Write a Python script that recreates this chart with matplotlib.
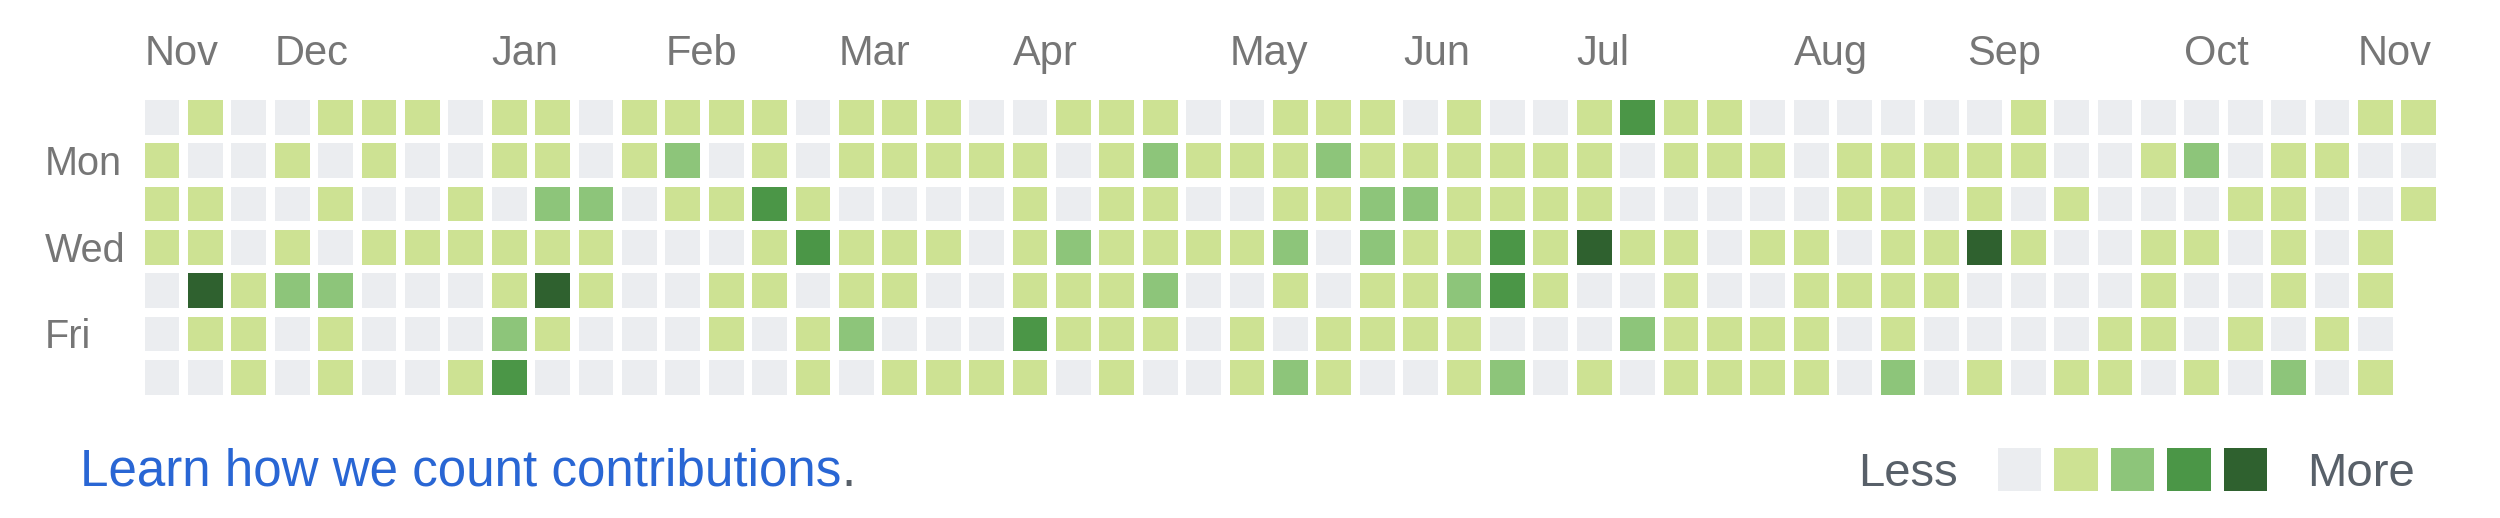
import matplotlib.pyplot as plt
import numpy as np

plt.rcParams['font.family'] = ['Liberation Sans', 'DejaVu Sans']

# Contribution level (0-4) per week, one list per weekday.
sun = [0, 1, 0, 0, 1, 1, 1, 0, 1, 1, 0, 1, 1, 1, 1, 0, 1, 1, 1, 0, 0, 1, 1, 1, 0, 0, 1,
       1, 1, 0, 1, 0, 0, 1, 3, 1, 1, 0, 0, 0, 0, 0, 0, 1, 0, 0, 0, 0, 0, 0, 0, 1, 1]
mon = [1, 0, 0, 1, 0, 1, 0, 0, 1, 1, 0, 1, 2, 0, 1, 0, 1, 1, 1, 1, 1, 0, 1, 2, 1, 1, 1,
       2, 1, 1, 1, 1, 1, 1, 0, 1, 1, 1, 0, 1, 1, 1, 1, 1, 0, 0, 1, 2, 0, 1, 1, 0, 0]
tue = [1, 1, 0, 0, 1, 0, 0, 1, 0, 2, 2, 0, 1, 1, 3, 1, 0, 0, 0, 0, 1, 0, 1, 1, 0, 0, 1,
       1, 2, 2, 1, 1, 1, 1, 0, 0, 0, 0, 0, 1, 1, 0, 1, 0, 1, 0, 0, 0, 1, 1, 0, 0, 1]
wed = [1, 1, 0, 1, 0, 1, 1, 1, 1, 1, 1, 0, 0, 0, 1, 3, 1, 1, 1, 0, 1, 2, 1, 1, 1, 1, 2,
       0, 2, 1, 1, 3, 1, 4, 1, 1, 0, 1, 1, 0, 1, 1, 4, 1, 0, 0, 1, 1, 0, 1, 0, 1]
thu = [0, 4, 1, 2, 2, 0, 0, 0, 1, 4, 1, 0, 0, 1, 1, 0, 1, 1, 0, 0, 1, 1, 1, 2, 0, 0, 1,
       0, 1, 1, 2, 3, 1, 0, 0, 1, 0, 0, 1, 1, 1, 1, 0, 0, 0, 0, 1, 0, 0, 1, 0, 1]
fri = [0, 1, 1, 0, 1, 0, 0, 0, 2, 1, 0, 0, 0, 1, 0, 1, 2, 0, 0, 0, 3, 1, 1, 1, 0, 1, 0,
       1, 1, 1, 1, 0, 0, 0, 2, 1, 1, 1, 1, 0, 1, 0, 0, 0, 0, 1, 1, 0, 1, 0, 1, 0]
sat = [0, 0, 1, 0, 1, 0, 0, 1, 3, 0, 0, 0, 0, 0, 0, 1, 0, 1, 1, 1, 1, 0, 1, 0, 0, 1, 2,
       1, 0, 0, 1, 2, 0, 1, 0, 1, 1, 1, 1, 0, 2, 0, 1, 0, 1, 1, 0, 1, 0, 2, 0, 1]
levels = [sun, mon, tue, wed, thu, fri, sat]

months = ['Nov', 'Dec', 'Jan', 'Feb', 'Mar', 'Apr', 'May', 'Jun', 'Jul', 'Aug', 'Sep', 'Oct', 'Nov']
month_weeks = [0, 3, 8, 12, 16, 20, 25, 29, 33, 38, 42, 47, 51]
day_labels = ['Mon', 'Wed', 'Fri']
day_rows = [1, 3, 5]
colors = ['#ebedf0', '#cde293', '#8dc57a', '#4b9647', '#2f612f']

fig = plt.figure(figsize=(25, 5.18), dpi=100)

# Calendar grid
ax = fig.add_axes([0.0561, 0.2297, 0.9201, 0.5855])
for r, row in enumerate(levels):
    weeks = np.arange(len(row))
    ax.bar(weeks, 0.8, bottom=r, width=0.8, align='edge',
           color=[colors[v] for v in row], linewidth=0)
ax.set_xlim(-0.1, 52.9)
ax.set_ylim(6.9, -0.1)
ax.axis('off')

for w, m in zip(month_weeks, months):
    ax.text(w, -0.81, m, ha='left', va='baseline', fontsize=30, color='#767676', clip_on=False)
for r, d in zip(day_rows, day_labels):
    ax.text(-2.29, r + 0.73, d, ha='left', va='baseline', fontsize=28.5, color='#767676', clip_on=False)

# Legend
lax = fig.add_axes([1997.8 / 2500, 1 - 491 / 518, 269.3 / 2500, 43 / 518])
lax.bar(np.arange(len(colors)), 1, width=0.766, align='edge', color=colors, linewidth=0)
lax.set_xlim(0, 4.766)
lax.set_ylim(0, 1)
lax.axis('off')
lax.text(-0.70, 0.116, 'Less', ha='right', va='baseline', fontsize=34, color='#586069', clip_on=False)
lax.text(5.47, 0.116, 'More', ha='left', va='baseline', fontsize=34, color='#586069', clip_on=False)

# Footer link
link = fig.text(80 / 2500, 1 - 486 / 518, 'Learn how we count contributions',
                ha='left', va='baseline', fontsize=36.8, color='#2966d4')
plt.annotate('.', xy=(1, 0), xycoords=link, ha='left', va='bottom', fontsize=36.8, color='#586069')

fig.savefig('out.png', dpi=100)
